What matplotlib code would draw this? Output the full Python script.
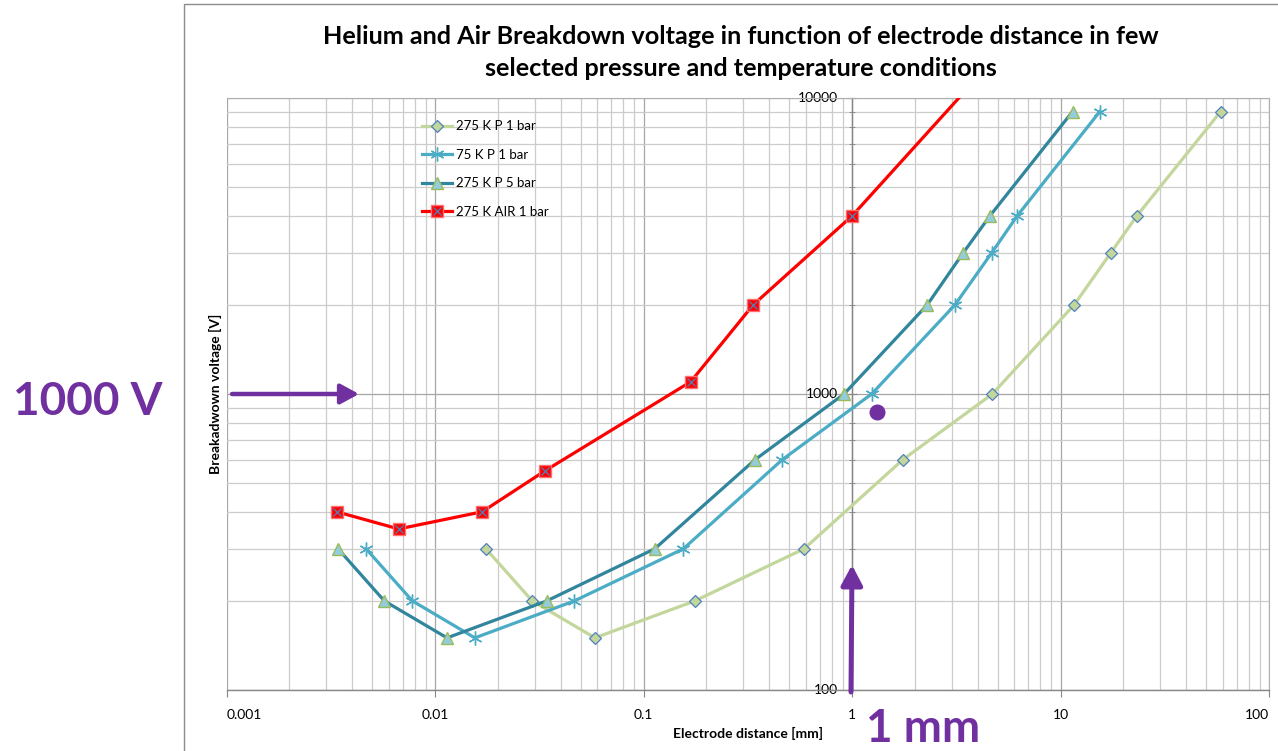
import matplotlib
matplotlib.use("Agg")
import matplotlib.pyplot as plt
from matplotlib.patches import Rectangle
from matplotlib.legend_handler import HandlerTuple
from matplotlib.ticker import LogLocator, FixedLocator, NullFormatter, FixedFormatter

plt.rcParams['font.family'] = ['Lato', 'DejaVu Sans']

# ---- data ----
voltage_he = [300, 200, 150, 200, 300, 600, 1000, 2000, 3000, 4000, 9000]
dist_275K_1bar = [0.0175, 0.0292, 0.0584, 0.176, 0.588, 1.75, 4.7, 11.6, 17.4, 23.2, 58.5]
dist_75K_1bar = [0.00466, 0.00777, 0.0155, 0.0465, 0.155, 0.462, 1.24, 3.11, 4.67, 6.19, 15.4]
dist_275K_5bar = [0.00342, 0.0057, 0.0114, 0.0343, 0.113, 0.342, 0.914, 2.29, 3.41, 4.58, 11.4]
dist_air = [0.00337, 0.00668, 0.0168, 0.0336, 0.168, 0.335, 1.0, 10.0]
voltage_air = [400, 350, 400, 550, 1100, 2000, 4000, 24000]
labels = ["275 K P 1 bar", "75 K P 1 bar", "275 K P 5 bar", "275 K AIR 1 bar"]
x_ticks = [0.001, 0.01, 0.1, 1, 10, 100]
x_tick_labels = ["0.001", "0.01", "0.1", "1", "10", "100"]
y_ticks = [100, 1000, 10000]
y_tick_labels = ["100", "1000", "10000"]
marker_point = (1.31, 867)

W, H = 1278, 751
fig = plt.figure(figsize=(W / 100, H / 100), dpi=100)
purple = '#7030A0'

# chart border
fig.add_artist(Rectangle((184 / W, -0.01), 1.0, 1 - 4 / H + 0.01, transform=fig.transFigure,
                         fill=False, edgecolor='#8c8c8c', lw=1.0))

left, right, top, bottom = 226.7, 1269.2, 98, 690
ax = fig.add_axes([left / W, 1 - bottom / H, (right - left) / W, (bottom - top) / H])
ax.set_xscale('log')
ax.set_yscale('log')
ax.set_xlim(0.001, 100)
ax.set_ylim(100, 10000)

ax.xaxis.set_major_locator(FixedLocator(x_ticks))
ax.xaxis.set_major_formatter(FixedFormatter(x_tick_labels))
ax.xaxis.set_minor_locator(LogLocator(base=10, subs=range(2, 10)))
ax.xaxis.set_minor_formatter(NullFormatter())
ax.yaxis.set_major_locator(FixedLocator(y_ticks))
ax.yaxis.set_major_formatter(FixedFormatter(y_tick_labels))
ax.yaxis.set_minor_locator(LogLocator(base=10, subs=range(2, 10)))
ax.yaxis.set_minor_formatter(NullFormatter())

ax.grid(which='major', color='#a6a6a6', lw=0.9)
ax.grid(which='minor', color='#cccccc', lw=0.9)
ax.set_axisbelow(True)

for s in ['top', 'right']:
    ax.spines[s].set_color('#b0b0b0')
    ax.spines[s].set_linewidth(0.8)
ax.spines['bottom'].set_color('#868686')
ax.spines['bottom'].set_linewidth(1.0)
ax.spines['left'].set_position(('data', 1))
ax.spines['left'].set_color('#868686')
ax.spines['left'].set_linewidth(1.0)

ax.tick_params(axis='x', which='major', direction='out', length=5, color='#868686',
               labelsize=10, pad=9)
ax.tick_params(axis='x', which='minor', direction='in', length=0)
ax.tick_params(axis='y', which='major', direction='inout', length=7, color='#868686',
               labelsize=10, pad=7)
ax.tick_params(axis='y', which='minor', direction='inout', length=5, color='#868686')
for t in ax.get_yticklabels():
    t.set_verticalalignment('center')
xtl = ax.get_xticklabels()
xtl[0].set_horizontalalignment('left')
xtl[-1].set_horizontalalignment('right')

lw = 2.3
l1, = ax.plot(dist_275K_1bar, voltage_he, color='#c3d69b', lw=lw, marker='D', ms=6.5,
              mfc='#c3d69b', mec='#4f81bd', mew=0.9, zorder=3)
l2, = ax.plot(dist_75K_1bar, voltage_he, color='#4bacc6', lw=lw, marker=(6, 2, 0), ms=10,
              mec='#4bacc6', mew=1.0, zorder=3)
l3, = ax.plot(dist_275K_5bar, voltage_he, color='#31859c', lw=lw, marker='^', ms=9,
              mfc='#93cddd', mec='#9bbb59', mew=1.0, zorder=4)
l4, = ax.plot(dist_air, voltage_air, color='#ff0000', lw=lw, marker='s', ms=8,
              mfc='#ff0000', mec='#ff6f6f', mew=1.0, zorder=5)
l4x, = ax.plot(dist_air, voltage_air, lw=0, marker='x', ms=6, mec='#4f81bd', mew=0.9, zorder=6)

ax.plot([marker_point[0]], [marker_point[1]], 'o', color=purple, ms=10.5, zorder=7)

leg = ax.legend([l1, l2, l3, (l4, l4x)], labels, handler_map={tuple: HandlerTuple(ndivide=1)},
                loc='upper left', bbox_to_anchor=(190 / (right - left), 1 - 17 / (bottom - top)),
                frameon=False, fontsize=9.5, handlelength=2.3, labelspacing=1.25,
                handletextpad=0.3, borderaxespad=0)

ax.set_xlabel('Electrode distance [mm]', fontsize=10, fontweight='bold')
ax.set_ylabel('Breakadwown voltage [V]', fontsize=10, fontweight='bold')
ax.yaxis.set_label_coords(-(left - 215) / (right - left), 0.5)
ax.yaxis.label.set_verticalalignment('center')
ax.xaxis.set_label_coords(0.5, -(733 - bottom) / (bottom - top))
ax.xaxis.label.set_verticalalignment('center')

fig.text(741 / W, 1 - 36 / H, 'Helium and Air Breakdown voltage in function of electrode distance in few',
         ha='center', va='center', fontsize=18.2, fontweight='bold')
fig.text(741 / W, 1 - 68 / H, 'selected pressure and temperature conditions',
         ha='center', va='center', fontsize=18.2, fontweight='bold')

# annotations
fig.text(88 / W, 1 - 402 / H, '1000 V', ha='center', va='center', fontsize=33,
         fontweight='bold', color=purple)
fig.text(923 / W, 1 - 729 / H, '1 mm', ha='center', va='center', fontsize=33,
         fontweight='bold', color=purple)
ax.annotate('', xy=(359, H - 394), xytext=(232, H - 394), xycoords='figure pixels',
            textcoords='figure pixels',
            arrowprops=dict(arrowstyle='-|>,head_length=0.55,head_width=0.3', lw=3.2,
                            color=purple, mutation_scale=20, shrinkA=0, shrinkB=0))
ax.annotate('', xy=(852, H - 565), xytext=(851, H - 692), xycoords='figure pixels',
            textcoords='figure pixels',
            arrowprops=dict(arrowstyle='-|>,head_length=0.6,head_width=0.32', lw=3.6,
                            color=purple, mutation_scale=20, shrinkA=0, shrinkB=0))

fig.savefig('out.png', dpi=100)
